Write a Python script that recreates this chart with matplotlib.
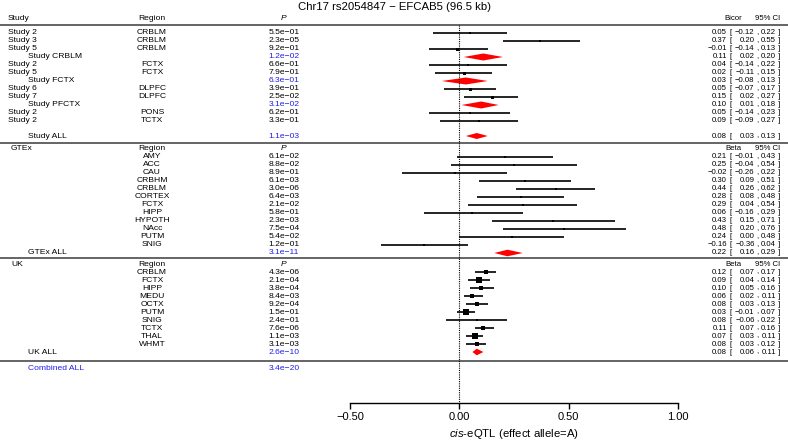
import matplotlib.pyplot as plt

plt.rcParams['font.family'] = ['Liberation Sans', 'DejaVu Sans']
plt.rcParams['mathtext.fontset'] = 'custom'
plt.rcParams['mathtext.it'] = 'Liberation Sans:italic'
plt.rcParams['mathtext.rm'] = 'Liberation Sans'

TITLE = "Chr17 rs2054847 \u2212 EFCAB5 (96.5 kb)"
XLABEL = r"$\it{cis}$-eQTL (effect allele=A)"
XTICKS = [-0.5, 0.0, 0.5, 1.0]
XTICK_LABELS = ["\u22120.50", "0.00", "0.50", "1.00"]

# --- brain eQTL studies (kind: s = single study, p = pooled region, a = all)
STUDY_LABELS = ["Study 2", "Study 3", "Study 5", "Study CRBLM", "Study 2", "Study 5",
                "Study FCTX", "Study 6", "Study 7", "Study PFCTX", "Study 2", "Study 2",
                "Study ALL"]
STUDY_REGIONS = ["CRBLM", "CRBLM", "CRBLM", "", "FCTX", "FCTX", "", "DLPFC", "DLPFC",
                 "", "PONS", "TCTX", ""]
STUDY_KIND = ["s", "s", "s", "p", "s", "s", "p", "s", "s", "p", "s", "s", "a"]
STUDY_P = [5.5e-01, 2.3e-05, 9.2e-01, 1.2e-02, 6.6e-01, 7.9e-01, 6.3e-01, 3.9e-01,
           2.5e-02, 3.1e-02, 6.2e-01, 3.3e-01, 1.1e-03]
STUDY_EST = [0.05, 0.37, -0.01, 0.11, 0.04, 0.02, 0.03, 0.05, 0.15, 0.10, 0.05, 0.09, 0.08]
STUDY_LO = [-0.12, 0.20, -0.14, 0.02, -0.14, -0.11, -0.08, -0.07, 0.02, 0.01, -0.14, -0.09, 0.03]
STUDY_HI = [0.22, 0.55, 0.13, 0.20, 0.22, 0.15, 0.13, 0.17, 0.27, 0.18, 0.23, 0.27, 0.13]

# --- GTEx
GTEX_REGIONS = ["AMY", "ACC", "CAU", "CRBHM", "CRBLM", "CORTEX", "FCTX", "HIPP", "HYPOTH",
                "NAcc", "PUTM", "SNIG", "GTEx ALL"]
GTEX_P = [6.1e-02, 8.8e-02, 8.9e-01, 6.1e-03, 3.0e-06, 6.4e-03, 2.1e-02, 5.8e-01, 2.3e-03,
          7.5e-04, 5.4e-02, 1.2e-01, 3.1e-11]
GTEX_EST = [0.21, 0.25, -0.02, 0.30, 0.44, 0.28, 0.29, 0.06, 0.43, 0.48, 0.24, -0.16, 0.22]
GTEX_LO = [-0.01, -0.04, -0.26, 0.09, 0.26, 0.08, 0.04, -0.16, 0.15, 0.20, 0.00, -0.36, 0.16]
GTEX_HI = [0.43, 0.54, 0.22, 0.51, 0.62, 0.48, 0.54, 0.29, 0.71, 0.76, 0.48, 0.04, 0.29]

# --- UK brain expression
UK_REGIONS = ["CRBLM", "FCTX", "HIPP", "MEDU", "OCTX", "PUTM", "SNIG", "TCTX", "THAL",
              "WHMT", "UK ALL"]
UK_P = [4.3e-06, 2.1e-04, 3.8e-04, 8.4e-03, 9.2e-04, 1.5e-01, 2.4e-01, 7.6e-06, 1.1e-03,
        3.1e-03, 2.6e-10]
UK_EST = [0.12, 0.09, 0.10, 0.06, 0.08, 0.03, 0.08, 0.11, 0.07, 0.08, 0.08]
UK_LO = [0.07, 0.04, 0.05, 0.02, 0.03, -0.01, -0.06, 0.07, 0.03, 0.03, 0.06]
UK_HI = [0.17, 0.14, 0.16, 0.11, 0.13, 0.07, 0.22, 0.16, 0.11, 0.12, 0.11]

COMBINED_P = 3.4e-20

STUDY_BOX = [2, 2, 3, 0, 2, 3, 0, 3, 3, 0, 2, 2, 0]
GTEX_BOX = [2] * 12
UK_BOX = [5, 5.5, 4.5, 5, 4.5, 5.5, 2, 4.5, 5.5, 5]

BLUE = "#1f1fe6"
RED = "#ff0000"
FS = 6.1
FS_CI = 5.6

W, H = 788, 441
X0, XSCALE = 459.3, 218.7   # pixel of 0.00 and pixels per unit


def px(p):
    return (p - X0) / XSCALE


def fmt(v):
    return f"{v:.2f}".replace("-", "\u2212")


def pfmt(p):
    return f"{p:.1e}".replace("-", "\u2212")


fig = plt.figure(figsize=(W / 100, H / 100), dpi=100)
ax = fig.add_axes([0, 0, 1, 1])
ax.set_xlim(px(0), px(W))
ax.set_ylim(H, 0)
for s in ["top", "left", "right"]:
    ax.spines[s].set_visible(False)
ax.set_yticks([])


def txt(xp, y, s, ha="left", color="black", size=FS, **kw):
    ax.text(px(xp), y, s, ha=ha, va="center", fontsize=size, color=color, **kw)


def ci_text(y, est, lo, hi):
    txt(727, y, fmt(est), ha="right", size=FS_CI)
    txt(729, y, "[", size=FS_CI)
    txt(754.5, y, fmt(lo), ha="right", size=FS_CI)
    txt(756, y, ",", size=FS_CI)
    txt(776, y, fmt(hi), ha="right", size=FS_CI)
    txt(778, y, "]", size=FS_CI)


def header(y, name, name_x, stat):
    txt(name_x, y, name)
    txt(152, y, "Region", ha="center")
    txt(284, y, "P", ha="center", style="italic")
    txt(733, y, stat, ha="center", size=FS_CI)
    txt(780, y, "95% CI", ha="right", size=FS_CI)


def study_mark(y, est, lo, hi, box):
    ax.errorbar(est, y, xerr=[[est - lo], [hi - est]], fmt="s", ms=box * 0.72,
                color="black", elinewidth=1.2, capsize=2.0, capthick=1.1, mew=0)


def diamond(y, est, lo, hi, half):
    ax.fill([lo, est, hi, est], [y, y - half, y, y + half], color=RED, lw=0)


def sep(y):
    ax.plot([px(0), px(W)], [y, y], color="#3a3a3a", lw=1.1, solid_capstyle="butt")


STEP = 8.0

# ---- section 1
header(18.5, "Study", 8, "Bicor")
sep(24.5)
for i in range(len(STUDY_LABELS)):
    y = 33 + STEP * i if STUDY_KIND[i] != "a" else 33 + STEP * (i - 1) + 15
    kind = STUDY_KIND[i]
    txt(8 if kind == "s" else 28, y, STUDY_LABELS[i])
    txt(152, y, STUDY_REGIONS[i], ha="center")
    txt(284, y, pfmt(STUDY_P[i]), ha="center", color="black" if kind == "s" else BLUE)
    ci_text(y, STUDY_EST[i], STUDY_LO[i], STUDY_HI[i])
    if kind == "s":
        study_mark(y, STUDY_EST[i], STUDY_LO[i], STUDY_HI[i], STUDY_BOX[i])
    else:
        diamond(y, STUDY_EST[i], STUDY_LO[i], STUDY_HI[i], 3.5 if kind == "p" else 3.0)
sep(143)

# ---- section 2
header(149, "GTEx", 11, "Beta")
for i in range(len(GTEX_REGIONS)):
    y = 157 + STEP * i
    last = i == len(GTEX_REGIONS) - 1
    if last:
        txt(28, y, GTEX_REGIONS[i])
    else:
        txt(152, y, GTEX_REGIONS[i], ha="center")
    txt(284, y, pfmt(GTEX_P[i]), ha="center", color=BLUE if last else "black")
    ci_text(y, GTEX_EST[i], GTEX_LO[i], GTEX_HI[i])
    if last:
        diamond(y, GTEX_EST[i], GTEX_LO[i], GTEX_HI[i], 3.3)
    else:
        study_mark(y, GTEX_EST[i], GTEX_LO[i], GTEX_HI[i], GTEX_BOX[i])
sep(257.5)

# ---- section 3
header(264, "UK", 11, "Beta")
for i in range(len(UK_REGIONS)):
    y = 272 + STEP * i
    last = i == len(UK_REGIONS) - 1
    if last:
        txt(28, y, UK_REGIONS[i])
    else:
        txt(152, y, UK_REGIONS[i], ha="center")
    txt(284, y, pfmt(UK_P[i]), ha="center", color=BLUE if last else "black")
    ci_text(y, UK_EST[i], UK_LO[i], UK_HI[i])
    if last:
        diamond(y, UK_EST[i], UK_LO[i], UK_HI[i], 3.3)
    else:
        study_mark(y, UK_EST[i], UK_LO[i], UK_HI[i], UK_BOX[i])
sep(360.5)

txt(28, 368.5, "Combined ALL", color=BLUE)
txt(284, 368.5, pfmt(COMBINED_P), ha="center", color=BLUE)

# null line
ax.plot([0, 0], [24.5, 403], color="black", lw=0.8, ls=(0, (1, 1)))

# x axis
ax.spines["bottom"].set_position(("data", 403))
ax.spines["bottom"].set_bounds(XTICKS[0], XTICKS[-1])
ax.spines["bottom"].set_linewidth(1.0)
ax.set_xticks(XTICKS)
ax.set_xticklabels(XTICK_LABELS)
ax.tick_params(axis="x", direction="out", length=4, width=1.0, pad=2.5, labelsize=8)

ax.text(px(514), 434, XLABEL, ha="center", va="center", fontsize=8.2)
ax.text(px(394), 7, TITLE, ha="center", va="center", fontsize=8.2)

fig.savefig("out.png", dpi=100)
